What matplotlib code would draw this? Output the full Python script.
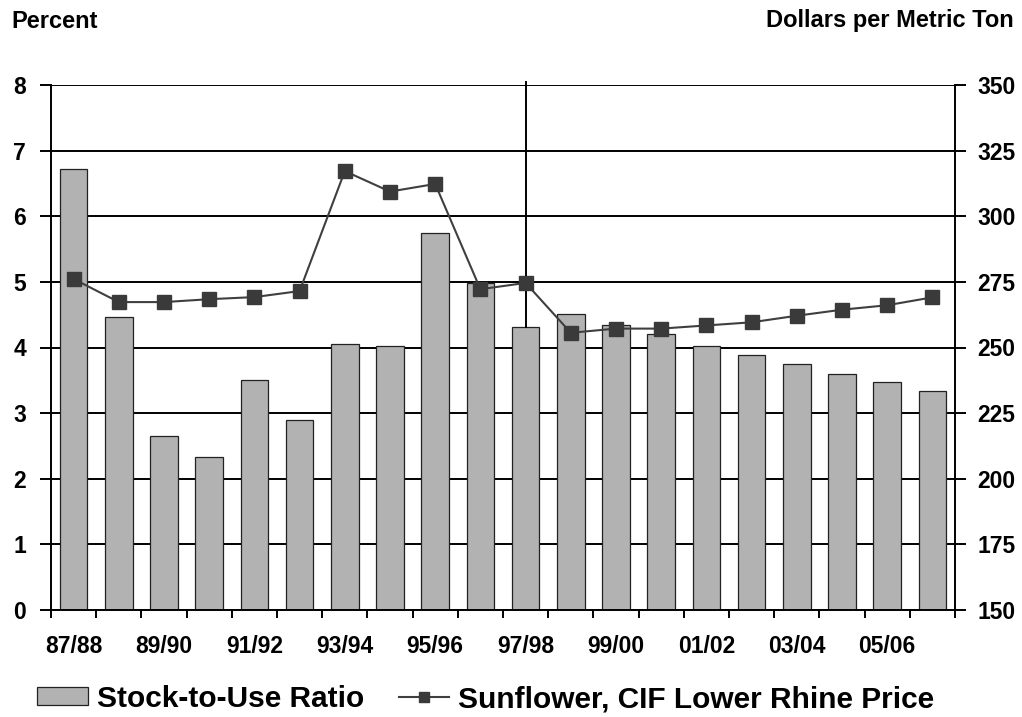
import matplotlib
matplotlib.use("Agg")
import matplotlib.pyplot as plt
from matplotlib.ticker import FixedLocator, NullFormatter

plt.rcParams['font.family'] = ['Liberation Sans', 'DejaVu Sans']
plt.rcParams['font.weight'] = 'bold'

years = ["87/88", "88/89", "89/90", "90/91", "91/92", "92/93", "93/94", "94/95",
         "95/96", "96/97", "97/98", "98/99", "99/00", "00/01", "01/02", "02/03",
         "03/04", "04/05", "05/06", "06/07"]
stock_to_use = [6.72, 4.47, 2.65, 2.33, 3.50, 2.90, 4.06, 4.03, 5.74, 4.99,
                4.32, 4.51, 4.35, 4.20, 4.03, 3.88, 3.75, 3.60, 3.47, 3.34]
price = [276.1, 267.3, 267.3, 268.4, 269.2, 271.5, 317.2, 309.4, 312.3, 272.2,
         274.6, 255.6, 257.2, 257.2, 258.4, 259.6, 262.1, 264.4, 266.1, 269.1]
left_ticks = [0, 1, 2, 3, 4, 5, 6, 7, 8]
right_ticks = [150, 175, 200, 225, 250, 275, 300, 325, 350]
divider_year = "97/98"

fig = plt.figure(figsize=(10.22, 7.17), dpi=100)
ax = fig.add_axes([51/1022, 1 - 610/717, (955-51)/1022, (610-85)/717])
x = list(range(len(years)))

ax.bar(x, stock_to_use, width=0.61, color='#b2b2b2', edgecolor='#222222',
       linewidth=0.9, label='Stock-to-Use Ratio', zorder=2)
ax.set_xlim(-0.5, len(years) - 0.5)
ax.set_ylim(0, 8)
ax.set_yticks(left_ticks)
ax.grid(axis='y', color='black', linewidth=1.4)
ax.set_axisbelow(True)

# divider line
di = years.index(divider_year)
ax.axvline(di, ymin=stock_to_use[di] / 8, ymax=1.005, color='black',
           linewidth=1.4, clip_on=False, zorder=3)

# x ticks: boundaries as major, labels on every other bar as minor
ax.xaxis.set_major_locator(FixedLocator([i - 0.5 for i in range(len(years) + 1)]))
ax.xaxis.set_major_formatter(NullFormatter())
ax.xaxis.set_minor_locator(FixedLocator(x[::2]))
ax.set_xticklabels(years[::2], minor=True)
ax.tick_params(axis='x', which='major', direction='out', length=6, width=1.4)
ax.tick_params(axis='x', which='minor', length=0, pad=18, labelsize=16.5)
ax.tick_params(axis='y', direction='out', length=8, width=1.4, labelsize=16.5, pad=10)

for s in ['left', 'bottom', 'right']:
    ax.spines[s].set_linewidth(1.4)
ax.spines['top'].set_visible(False)

ax2 = ax.twinx()
ax2.plot(x, price, color='#3f3f3f', linewidth=1.5, marker='s', markersize=9.5,
         markerfacecolor='#3a3a3a', markeredgecolor='#3a3a3a',
         label='Sunflower, CIF Lower Rhine Price', zorder=4)
ax2.set_ylim(150, 350)
ax2.set_yticks(right_ticks)
ax2.tick_params(axis='y', direction='out', length=8, width=1.4, labelsize=16.5, pad=8)
for s in ['left', 'bottom', 'right', 'top']:
    ax2.spines[s].set_visible(False)

fig.text(11/1022, 1 - 21/717, 'Percent', fontsize=17, fontweight='bold',
         ha='left', va='center')
fig.text(1014/1022, 1 - 21/717, 'Dollars per Metric Ton', fontsize=17,
         fontweight='bold', ha='right', va='center')

h1, l1 = ax.get_legend_handles_labels()
h2, l2 = ax2.get_legend_handles_labels()
fig.legend(h1 + h2, l1 + l2, loc='center', bbox_to_anchor=(486/1022, 1 - 699/717),
           ncol=2, frameon=False, prop={'size': 21.5, 'weight': 'bold'},
           handlelength=1.7, handleheight=0.55, handletextpad=0.3,
           columnspacing=1.15, markerscale=0.75, borderaxespad=0, borderpad=0)

fig.savefig('out.png', dpi=100)
